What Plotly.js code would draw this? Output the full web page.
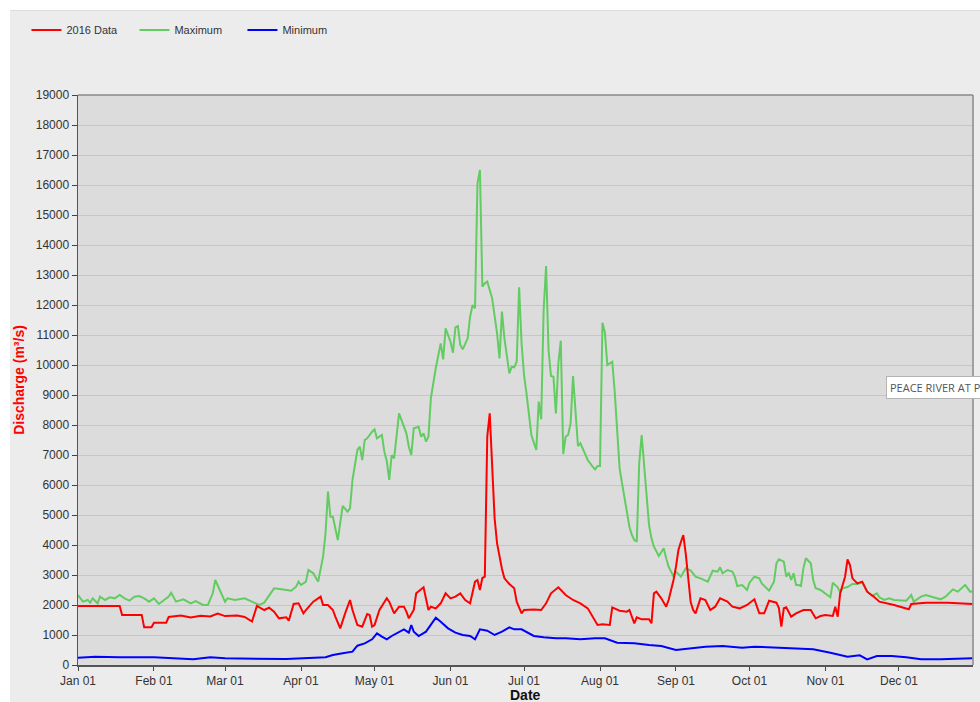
<!DOCTYPE html>
<html>
<head>
<meta charset="utf-8">
<script src="https://cdn.plot.ly/plotly-3.0.1.min.js"></script>
<style>
  html, body { margin: 0; padding: 0; background: #ffffff; }
  #wrap { position: relative; width: 980px; height: 702px; overflow: hidden; }
  #panel { position: absolute; left: 10px; top: 10px; width: 970px; height: 692px; background: #ececec; border-top: 1px solid #dddddd; }
  #chart { position: absolute; left: 0; top: 0; width: 980px; height: 702px; }
</style>
</head>
<body>
<div id="wrap"><div id="panel"></div><div id="chart"></div></div>
<script>
// Day of year 2016 (0 = Jan 01) and tick labels
const monthStartDay = [0, 31, 60, 91, 121, 152, 182, 213, 244, 274, 305, 335];
const monthLabels = ['Jan 01', 'Feb 01', 'Mar 01', 'Apr 01', 'May 01', 'Jun 01', 'Jul 01', 'Aug 01', 'Sep 01', 'Oct 01', 'Nov 01', 'Dec 01'];

// 2016 Data (red)
const data2016Day = [0,17,18,26,27,30,31,36,37,42,46,50,54,57,60,65,68,71,73,76,78,80,82,85,86,88,90,92,93,96,99,100,102,104,105,107,109,111,112,114,116,118,119,120,121,123,126,127,129,131,133,134,135,137,138,141,143,144,146,148,150,152,154,156,158,160,162,163,164,165,166,167,168,169,170,171,172,173,174,176,178,179,181,182,186,189,191,193,196,199,202,205,208,210,212,214,217,218,221,224,225,227,228,230,233,234,235,236,238,240,241,242,243,244,245,246,247,248,249,250,251,252,254,256,258,260,262,265,267,270,273,276,278,280,282,285,286,287,288,289,291,293,296,299,301,303,305,308,309,310,311,312,313,314,315,316,318,320,322,325,327,333,338,339,340,346,355,365];
const data2016Val = [1967,1967,1670,1670,1256,1256,1411,1411,1600,1650,1580,1640,1620,1711,1630,1650,1600,1450,1967,1833,1911,1778,1556,1589,1478,2033,2056,1722,1833,2111,2278,2000,2000,1833,1611,1222,1722,2167,1833,1333,1278,1700,1667,1278,1333,1833,2222,2111,1722,1944,1944,1778,1556,1833,2389,2589,1833,1944,1889,2056,2389,2222,2278,2389,2167,2056,2778,2833,2500,2900,2944,7611,8389,6444,4889,4056,3600,3200,2889,2700,2556,2111,1722,1833,1850,1833,2056,2389,2589,2333,2167,2056,1889,1611,1333,1356,1333,1922,1811,1778,1833,1389,1589,1522,1522,1389,2389,2444,2222,1944,2167,2500,2833,3278,3833,4100,4333,3700,2778,2100,1833,1722,2222,2167,1833,1944,2222,2111,1944,1889,2000,2189,1722,1722,2144,2078,1900,1278,1889,1922,1611,1722,1833,1833,1556,1633,1667,1633,1944,1611,2389,2700,2944,3522,3333,2889,2722,2778,2444,2256,2111,2000,1900,1856,2033,2078,2078,2033];

// Maximum (green)
const maxDay = [0,2,4,5,6,8,9,11,13,15,17,19,21,23,25,27,29,31,33,35,37,38,40,43,46,48,51,53,55,56,58,60,61,64,68,70,72,74,76,78,80,83,87,89,90,91,93,94,96,98,100,101,102,103,104,106,107,108,110,111,112,114,115,116,117,118,120,121,122,124,125,126,127,128,129,131,133,134,135,136,137,139,140,141,142,143,144,146,148,149,150,151,152,153,154,155,156,157,159,160,161,162,163,164,165,166,167,169,170,171,172,173,174,175,176,177,178,179,180,181,182,183,184,185,186,187,188,189,190,191,192,193,194,195,196,197,198,199,200,201,202,203,204,205,206,207,208,210,211,212,213,214,215,216,217,218,219,220,221,222,223,224,225,226,227,228,229,230,231,232,233,234,235,237,239,240,241,243,244,246,248,250,252,254,256,257,259,261,262,263,265,267,268,269,271,273,274,276,278,279,281,282,284,285,286,288,289,290,291,292,293,294,295,296,297,299,300,301,303,305,307,308,310,311,312,314,316,318,320,322,324,326,327,329,331,333,335,338,340,341,344,346,349,352,354,357,359,362,364,365];
const maxVal = [2333,2111,2167,2078,2222,2056,2278,2167,2256,2222,2333,2222,2144,2278,2300,2222,2111,2222,2033,2167,2278,2411,2111,2189,2056,2133,2000,2000,2389,2833,2444,2111,2222,2167,2222,2144,2078,2000,2078,2300,2556,2522,2478,2611,2778,2667,2778,3167,3056,2778,3611,4389,5778,4944,4944,4167,4833,5300,5111,5222,6167,7167,7278,6833,7500,7556,7778,7856,7556,7667,7111,6800,6167,7000,6889,8389,7944,7722,7278,7000,7889,7944,7611,7722,7444,7611,8900,9900,10722,10189,11222,11000,10778,10411,11256,11300,10667,10522,10889,11611,12000,11889,16056,16500,12611,12722,12778,12222,11611,11056,10222,11778,10889,10278,9722,9944,9922,10111,12589,10722,9667,9056,8389,7667,7411,7167,8778,8189,11833,13300,10500,9633,9611,8389,10056,10811,7033,7611,7667,8056,9633,8444,7300,7389,7222,7033,6833,6611,6522,6633,6633,11411,11078,10000,10056,10111,9111,7611,6556,6056,5556,5056,4611,4333,4167,4111,6722,7667,6556,5444,4667,4222,3944,3633,3889,3556,3278,2944,3111,2944,3222,3150,2944,2889,2811,2778,3144,3111,3256,3056,3167,3111,2944,2633,2667,2500,2744,2944,2889,2722,2556,2478,2778,3389,3522,3444,2944,3078,2833,3056,2667,2667,2633,3222,3556,3389,2833,2556,2500,2367,2256,2744,2589,2411,2556,2600,2700,2700,2750,2450,2300,2389,2256,2167,2222,2167,2167,2144,2333,2111,2278,2333,2256,2189,2278,2522,2444,2667,2444,2450];

// Minimum (blue)
const minDay = [0,7,17,31,47,54,60,72,85,101,104,108,112,114,117,120,122,124,126,128,131,133,135,136,137,139,142,144,146,148,151,154,157,160,162,164,167,170,173,176,178,181,186,190,195,199,205,211,215,220,227,233,238,244,250,256,263,271,276,284,292,300,307,314,319,322,326,332,338,344,352,358,365];
const minVal = [245,278,256,256,189,256,222,200,200,256,333,389,444,644,722,856,1056,944,856,967,1111,1189,1078,1333,1111,967,1111,1333,1578,1444,1222,1078,1000,967,856,1189,1144,1000,1111,1256,1189,1189,967,922,889,889,856,889,889,744,722,667,633,500,556,611,633,578,611,578,556,522,411,278,322,189,300,300,256,189,189,211,222];

const font = 'Liberation Sans, Arial, sans-serif';

const traces = [
  {x: maxDay, y: maxVal, name: 'Maximum', type: 'scatter', mode: 'lines',
   line: {color: '#62cc62', width: 2}, legendrank: 2},
  {x: minDay, y: minVal, name: 'Minimum', type: 'scatter', mode: 'lines',
   line: {color: '#0000ff', width: 2}, legendrank: 3},
  {x: data2016Day, y: data2016Val, name: '2016 Data', type: 'scatter', mode: 'lines',
   line: {color: '#ff0000', width: 2}, legendrank: 1}
];

const layout = {
  width: 980, height: 702,
  margin: {l: 78, r: 7, t: 95, b: 37},
  paper_bgcolor: 'rgba(0,0,0,0)',
  plot_bgcolor: '#dcdcdc',
  font: {family: font, size: 12, color: '#333'},
  showlegend: true,
  legend: {
    orientation: 'h', xref: 'container', yref: 'container',
    x: 0.027, y: 0.978, xanchor: 'left', yanchor: 'top',
    font: {family: font, size: 11, color: '#333'},
    bgcolor: 'rgba(0,0,0,0)', itemwidth: 30, entrywidth: 63
  },
  xaxis: {
    range: [0, 365.2], tickmode: 'array', tickvals: monthStartDay, ticktext: monthLabels,
    ticks: 'outside', ticklen: 4, tickcolor: '#444', tickwidth: 1,
    showline: true, linecolor: '#555', linewidth: 1.5,
    showgrid: false, zeroline: false, fixedrange: true,
    tickfont: {family: font, size: 12, color: '#333'}
  },
  yaxis: {
    range: [0, 19000], tick0: 0, dtick: 1000, tickformat: 'd',
    ticks: 'outside', ticklen: 5, tickcolor: '#444', tickwidth: 1,
    showline: true, linecolor: '#555', linewidth: 1.5,
    showgrid: true, gridcolor: '#c6c6c6', gridwidth: 1, zeroline: false, fixedrange: true,
    tickfont: {family: font, size: 12, color: '#333'},
    title: {text: 'Discharge (m³/s)', standoff: 8, font: {family: font, size: 14, color: '#ff0000', weight: 'bold'}}
  },
  shapes: [
    {type: 'line', xref: 'paper', yref: 'paper', x0: 0, x1: 1, y0: 1, y1: 1, line: {color: '#8a8a8a', width: 1.5}},
    {type: 'line', xref: 'paper', yref: 'paper', x0: 1, x1: 1, y0: 0, y1: 1, line: {color: '#8a8a8a', width: 1.5}},
    {type: 'rect', xref: 'paper', yref: 'paper', x0: 0.9062, x1: 1.2, y0: 0.4667, y1: 0.5018, line: {width: 0}, fillcolor: 'rgba(0,0,0,0.10)'}
  ],
  annotations: [
    {xref: 'paper', yref: 'paper', x: 0.5, y: -0.0535, xanchor: 'center', yanchor: 'middle',
     text: 'Date', showarrow: false,
     font: {family: font, size: 14, color: '#111', weight: 'bold'}},
    {xref: 'paper', yref: 'paper', x: 0.9028, y: 0.486, xanchor: 'left', yanchor: 'middle',
     text: 'PEACE RIVER AT PEACE POINT', showarrow: false,
     font: {family: 'Open Sans, sans-serif', size: 11, color: '#555'},
     bgcolor: '#ffffff', bordercolor: '#b5b5b5', borderwidth: 1, borderpad: 3}
  ]
};

Plotly.newPlot('chart', traces, layout, {displayModeBar: false, staticPlot: true});
</script>
</body>
</html>
